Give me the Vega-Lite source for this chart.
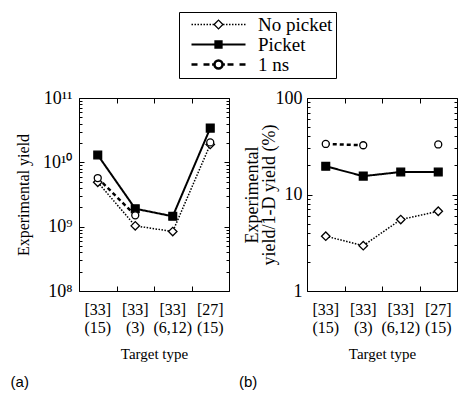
{
  "$schema": "https://vega.github.io/schema/vega-lite/v6.json",
  "background": "white",
  "padding": {"left": 10, "top": 11, "right": 0, "bottom": 0},
  "config": {
    "view": {"stroke": "black", "strokeWidth": 1},
    "axis": {"labelFont": "Liberation Serif", "titleFont": "Liberation Serif", "labelColor": "black", "titleColor": "black", "tickColor": "black", "grid": false, "domain": false, "titleFontWeight": "normal", "labelFontSize": 16, "titleFontSize": 15, "tickWidth": 1},
    "legend": {"title": null, "orient": "none", "legendX": 100, "legendY": -86, "strokeColor": "black", "strokeWidth": 1, "padding": 3, "labelFont": "Liberation Serif", "labelFontSize": 19, "labelColor": "black", "symbolSize": 64, "symbolStrokeColor": "black", "symbolOpacity": 1, "symbolOffset": 27, "labelOffset": 30, "rowPadding": -1},
    "title": {"font": "Liberation Sans", "fontSize": 15, "fontWeight": "normal", "color": "black"}
  },
  "datasets": {
    "a": [
      {"target": "[33]|(15)", "series": "No picket", "value": 4.9e9},
      {"target": "[33]|(3)", "series": "No picket", "value": 1.03e9},
      {"target": "[33]|(6,12)", "series": "No picket", "value": 8.4e8},
      {"target": "[27]|(15)", "series": "No picket", "value": 1.9e10},
      {"target": "[33]|(15)", "series": "Picket", "value": 1.3e10},
      {"target": "[33]|(3)", "series": "Picket", "value": 1.9e9},
      {"target": "[33]|(6,12)", "series": "Picket", "value": 1.45e9},
      {"target": "[27]|(15)", "series": "Picket", "value": 3.4e10},
      {"target": "[33]|(15)", "series": "1 ns", "value": 5.7e9},
      {"target": "[33]|(3)", "series": "1 ns", "value": 1.5e9},
      {"target": "[33]|(6,12)", "series": "1 ns", "value": null},
      {"target": "[27]|(15)", "series": "1 ns", "value": 2.04e10}
    ],
    "b": [
      {"target": "[33]|(15)", "series": "No picket", "value": 3.7},
      {"target": "[33]|(3)", "series": "No picket", "value": 2.95},
      {"target": "[33]|(6,12)", "series": "No picket", "value": 5.5},
      {"target": "[27]|(15)", "series": "No picket", "value": 6.7},
      {"target": "[33]|(15)", "series": "Picket", "value": 19.6},
      {"target": "[33]|(3)", "series": "Picket", "value": 15.5},
      {"target": "[33]|(6,12)", "series": "Picket", "value": 17.1},
      {"target": "[27]|(15)", "series": "Picket", "value": 17.1},
      {"target": "[33]|(15)", "series": "1 ns", "value": 33.4},
      {"target": "[33]|(3)", "series": "1 ns", "value": 32.4},
      {"target": "[33]|(6,12)", "series": "1 ns", "value": null},
      {"target": "[27]|(15)", "series": "1 ns", "value": 33}
    ]
  },
  "spacing": 78,
  "bounds": "flush",
  "resolve": {"scale": {"shape": "independent", "fill": "independent", "stroke": "independent", "strokeWidth": "independent", "size": "independent", "strokeDash": "independent"}},
  "hconcat": [
    {
      "width": 150,
      "height": 193,
      "data": {"name": "a"},
      "title": {"text": "(a)", "orient": "bottom", "anchor": "start", "frame": "bounds", "dx": -5, "offset": 14},
      "resolve": {"axis": {"x": "independent", "y": "independent"}, "scale": {"shape": "independent", "fill": "independent", "stroke": "independent", "strokeWidth": "independent", "size": "independent"}},
      "layer": [
        {
          "mark": {"type": "line", "color": "black", "invalid": "break-paths-filter-domains"},
          "encoding": {
            "x": {"field": "target", "type": "nominal", "sort": null, "scale": {"type": "band", "domain": ["[33]|(15)", "[33]|(3)", "[33]|(6,12)", "[27]|(15)"], "paddingInner": 0, "paddingOuter": 0}, "axis": {"orient": "bottom", "ticks": false, "labelExpr": "split(datum.value, '|')", "labelAngle": 0, "labelPadding": 10, "labelLineHeight": 18, "labelOverlap": false, "title": "Target type", "titleFontSize": 15, "titlePadding": 11}},
            "y": {"field": "value", "type": "quantitative", "scale": {"type": "log", "domain": [1e8, 1e11], "nice": false}, "axis": {"orient": "left", "ticks": false, "values": [1e8, 1e9, 1e10, 1e11], "labelExpr": "datum.value > 5e10 ? '10¹¹' : datum.value > 5e9 ? '10¹⁰' : datum.value > 5e8 ? '10⁹' : '10⁸'", "labelFontSize": 18, "labelPadding": 7, "title": "Experimental yield", "titleFontSize": 16, "titlePadding": 11}},
            "detail": {"field": "series", "type": "nominal"},
            "strokeDash": {"field": "series", "type": "nominal", "scale": {"domain": ["No picket", "Picket", "1 ns"], "range": [[1.5, 1.5], [1, 0], [4, 3]]}, "legend": null},
            "strokeWidth": {"field": "series", "type": "nominal", "scale": {"domain": ["No picket", "Picket", "1 ns"], "range": [1.5, 2.5, 1.5]}, "legend": null}
          }
        },
        {
          "mark": {"type": "point", "stroke": "black", "strokeWidth": 1.3, "opacity": 1},
          "encoding": {
            "x": {"field": "target", "type": "nominal", "sort": null, "scale": {"type": "band", "domain": ["[33]|(15)", "[33]|(3)", "[33]|(6,12)", "[27]|(15)"], "paddingInner": 0, "paddingOuter": 0}, "axis": {"orient": "bottom", "labels": false, "tickBand": "extent", "tickSize": -5, "title": null}},
            "y": {"field": "value", "type": "quantitative", "scale": {"type": "log", "domain": [1e8, 1e11], "nice": false}, "axis": {"orient": "left", "labels": false, "values": [1e8, 1e9, 1e10, 1e11], "tickSize": -5, "title": null}},
            "shape": {"field": "series", "type": "nominal", "scale": {"domain": ["No picket", "Picket", "1 ns"], "range": ["diamond", "square", "circle"]}, "legend": null},
            "fill": {"field": "series", "type": "nominal", "scale": {"domain": ["No picket", "Picket", "1 ns"], "range": ["white", "black", "white"]}, "legend": null},
            "size": {"field": "series", "type": "nominal", "scale": {"domain": ["No picket", "Picket", "1 ns"], "range": [72, 49, 56]}, "legend": null}
          }
        },
        {
          "data": {"values": []},
          "mark": {"type": "point"},
          "encoding": {
            "x": {"field": "target", "type": "nominal", "sort": null, "scale": {"type": "band", "domain": ["[33]|(15)", "[33]|(3)", "[33]|(6,12)", "[27]|(15)"], "paddingInner": 0, "paddingOuter": 0}, "axis": {"orient": "top", "labels": false, "tickBand": "extent", "tickSize": -5, "title": null}},
            "y": {"field": "value", "type": "quantitative", "scale": {"type": "log", "domain": [1e8, 1e11], "nice": false}, "axis": {"orient": "left", "labels": false, "values": [2e8, 3e8, 4e8, 5e8, 6e8, 7e8, 8e8, 9e8, 2e9, 3e9, 4e9, 5e9, 6e9, 7e9, 8e9, 9e9, 2e10, 3e10, 4e10, 5e10, 6e10, 7e10, 8e10, 9e10], "tickSize": -3, "title": null}}
          }
        },
        {
          "data": {"values": []},
          "mark": {"type": "point"},
          "encoding": {
            "x": {"field": "target", "type": "nominal", "sort": null, "scale": {"type": "band", "domain": ["[33]|(15)", "[33]|(3)", "[33]|(6,12)", "[27]|(15)"], "paddingInner": 0, "paddingOuter": 0}, "axis": null},
            "y": {"field": "value", "type": "quantitative", "scale": {"type": "log", "domain": [1e8, 1e11], "nice": false}, "axis": {"orient": "right", "labels": false, "values": [1e8, 1e9, 1e10, 1e11], "tickSize": -5, "title": null}}
          }
        },
        {
          "data": {"values": []},
          "mark": {"type": "point"},
          "encoding": {
            "x": {"field": "target", "type": "nominal", "sort": null, "scale": {"type": "band", "domain": ["[33]|(15)", "[33]|(3)", "[33]|(6,12)", "[27]|(15)"], "paddingInner": 0, "paddingOuter": 0}, "axis": null},
            "y": {"field": "value", "type": "quantitative", "scale": {"type": "log", "domain": [1e8, 1e11], "nice": false}, "axis": {"orient": "right", "labels": false, "values": [2e8, 3e8, 4e8, 5e8, 6e8, 7e8, 8e8, 9e8, 2e9, 3e9, 4e9, 5e9, 6e9, 7e9, 8e9, 9e9, 2e10, 3e10, 4e10, 5e10, 6e10, 7e10, 8e10, 9e10], "tickSize": -3, "title": null}}
          }
        },
        {
          "data": {"values": []},
          "mark": {"type": "point", "size": 64, "strokeWidth": 1.3},
          "encoding": {
            "x": {"field": "target", "type": "nominal", "sort": null, "scale": {"type": "band", "domain": ["[33]|(15)", "[33]|(3)", "[33]|(6,12)", "[27]|(15)"], "paddingInner": 0, "paddingOuter": 0}, "axis": null},
            "y": {"field": "value", "type": "quantitative", "scale": {"type": "log", "domain": [1e8, 1e11], "nice": false}, "axis": null},
            "shape": {"field": "series", "type": "nominal", "scale": {"domain": ["No picket", "Picket", "1 ns"], "range": [
              "M-6.75,0H-6.375M-6,0H-5.625M-5.25,0H-4.875M-4.5,0H-4.125M-3.75,0H-3.375M-3,0H-2.625M-2.25,0H-1.875M-1.5,0H-1.125M1.125,0H1.5M1.875,0H2.25M2.625,0H3M3.375,0H3.75M4.125,0H4.5M4.875,0H5.25M5.625,0H6M6.375,0H6.75M-1.1,0L0,-1.1L1.1,0L0,1.1Z",
              "M-6.75,0H6.75M-0.8,-0.8H0.8V0.8H-0.8Z",
              "M-6.75,0H-5.25M-3.75,0H-2.25M-1.6,0H-1M1,0H1.6M2.25,0H3.75M5.25,0H6.75M-1,0A1,1,0,1,1,1,0A1,1,0,1,1,-1,0Z"
            ]}},
            "fill": {"field": "series", "type": "nominal", "scale": {"domain": ["No picket", "Picket", "1 ns"], "range": ["white", "black", "white"]}},
            "stroke": {"field": "series", "type": "nominal", "scale": {"domain": ["No picket", "Picket", "1 ns"], "range": ["black", "black", "black"]}},
            "strokeWidth": {"field": "series", "type": "nominal", "scale": {"domain": ["No picket", "Picket", "1 ns"], "range": [1.3, 2.5, 1.3]}}
          }
        }
      ]
    },
    {
      "width": 150,
      "height": 193,
      "data": {"name": "b"},
      "title": {"text": "(b)", "orient": "bottom", "anchor": "start", "frame": "bounds", "dx": -4, "offset": 14},
      "resolve": {"axis": {"x": "independent", "y": "independent"}},
      "layer": [
        {
          "mark": {"type": "line", "color": "black", "invalid": "break-paths-filter-domains"},
          "encoding": {
            "x": {"field": "target", "type": "nominal", "sort": null, "scale": {"type": "band", "domain": ["[33]|(15)", "[33]|(3)", "[33]|(6,12)", "[27]|(15)"], "paddingInner": 0, "paddingOuter": 0}, "axis": {"orient": "bottom", "ticks": false, "labelExpr": "split(datum.value, '|')", "labelAngle": 0, "labelPadding": 10, "labelLineHeight": 18, "labelOverlap": false, "title": "Target type", "titleFontSize": 15, "titlePadding": 11}},
            "y": {"field": "value", "type": "quantitative", "scale": {"type": "log", "domain": [1, 100], "nice": false}, "axis": {"orient": "left", "ticks": false, "values": [1, 10, 100], "format": "d", "labelFontSize": 18, "labelPadding": 5, "title": ["Experimental", "yield/1-D yield (%)"], "titleFontSize": 18, "titleLineHeight": 17, "titlePadding": -3}},
            "detail": {"field": "series", "type": "nominal"},
            "strokeDash": {"field": "series", "type": "nominal", "scale": {"domain": ["No picket", "Picket", "1 ns"], "range": [[1.5, 1.5], [1, 0], [4, 3]]}, "legend": null},
            "strokeWidth": {"field": "series", "type": "nominal", "scale": {"domain": ["No picket", "Picket", "1 ns"], "range": [1.5, 2.5, 1.5]}, "legend": null}
          }
        },
        {
          "mark": {"type": "point", "stroke": "black", "strokeWidth": 1.3, "opacity": 1},
          "encoding": {
            "x": {"field": "target", "type": "nominal", "sort": null, "scale": {"type": "band", "domain": ["[33]|(15)", "[33]|(3)", "[33]|(6,12)", "[27]|(15)"], "paddingInner": 0, "paddingOuter": 0}, "axis": {"orient": "bottom", "labels": false, "tickBand": "extent", "tickSize": -5, "title": null}},
            "y": {"field": "value", "type": "quantitative", "scale": {"type": "log", "domain": [1, 100], "nice": false}, "axis": {"orient": "left", "labels": false, "values": [1, 10, 100], "tickSize": -5, "title": null}},
            "shape": {"field": "series", "type": "nominal", "scale": {"domain": ["No picket", "Picket", "1 ns"], "range": ["diamond", "square", "circle"]}, "legend": null},
            "fill": {"field": "series", "type": "nominal", "scale": {"domain": ["No picket", "Picket", "1 ns"], "range": ["white", "black", "white"]}, "legend": null},
            "size": {"field": "series", "type": "nominal", "scale": {"domain": ["No picket", "Picket", "1 ns"], "range": [72, 49, 56]}, "legend": null}
          }
        },
        {
          "data": {"values": []},
          "mark": {"type": "point"},
          "encoding": {
            "x": {"field": "target", "type": "nominal", "sort": null, "scale": {"type": "band", "domain": ["[33]|(15)", "[33]|(3)", "[33]|(6,12)", "[27]|(15)"], "paddingInner": 0, "paddingOuter": 0}, "axis": {"orient": "top", "labels": false, "tickBand": "extent", "tickSize": -5, "title": null}},
            "y": {"field": "value", "type": "quantitative", "scale": {"type": "log", "domain": [1, 100], "nice": false}, "axis": {"orient": "left", "labels": false, "values": [2, 3, 4, 5, 6, 7, 8, 9, 20, 30, 40, 50, 60, 70, 80, 90], "tickSize": -3, "title": null}}
          }
        },
        {
          "data": {"values": []},
          "mark": {"type": "point"},
          "encoding": {
            "x": {"field": "target", "type": "nominal", "sort": null, "scale": {"type": "band", "domain": ["[33]|(15)", "[33]|(3)", "[33]|(6,12)", "[27]|(15)"], "paddingInner": 0, "paddingOuter": 0}, "axis": null},
            "y": {"field": "value", "type": "quantitative", "scale": {"type": "log", "domain": [1, 100], "nice": false}, "axis": {"orient": "right", "labels": false, "values": [1, 10, 100], "tickSize": -5, "title": null}}
          }
        },
        {
          "data": {"values": []},
          "mark": {"type": "point"},
          "encoding": {
            "x": {"field": "target", "type": "nominal", "sort": null, "scale": {"type": "band", "domain": ["[33]|(15)", "[33]|(3)", "[33]|(6,12)", "[27]|(15)"], "paddingInner": 0, "paddingOuter": 0}, "axis": null},
            "y": {"field": "value", "type": "quantitative", "scale": {"type": "log", "domain": [1, 100], "nice": false}, "axis": {"orient": "right", "labels": false, "values": [2, 3, 4, 5, 6, 7, 8, 9, 20, 30, 40, 50, 60, 70, 80, 90], "tickSize": -3, "title": null}}
          }
        }
      ]
    }
  ]
}
